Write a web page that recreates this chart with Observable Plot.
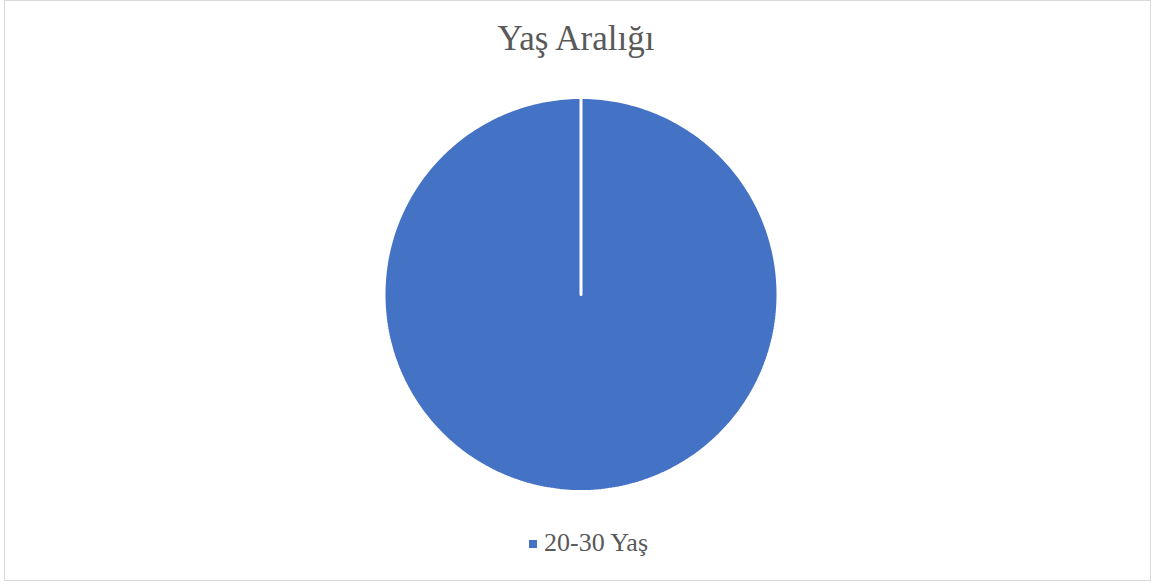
<!DOCTYPE html>
<html>
<head>
<meta charset="utf-8">
<script src="https://cdn.jsdelivr.net/npm/d3@7"></script>
<script src="https://cdn.jsdelivr.net/npm/@observablehq/plot@0.6"></script>
<style>
  html, body { margin: 0; padding: 0; background: #fff; }
  #frame {
    position: absolute; left: 4px; top: 0px; width: 1145px; height: 579px;
    border: 1px solid #d9d9d9; box-sizing: content-box; background: #fff;
  }
  #title {
    position: absolute; left: 0; top: 17px; width: 1152px; text-align: center;
    font-family: "Liberation Serif", "DejaVu Serif", serif; font-size: 35px; color: #595959;
    line-height: 44px;
  }
  #chart { position: absolute; left: 0; top: 87px; }
  #legend { position: absolute; left: 529px; top: 530px; height: 26px; }
  #legend .sw { position: absolute; left: 0; top: 10px; width: 8px; height: 8px; }
  #legend .lbl {
    position: absolute; left: 15px; top: 0; white-space: nowrap;
    font-family: "Liberation Serif", "DejaVu Serif", serif; font-size: 26px; color: #595959;
    line-height: 26px;
  }
</style>
</head>
<body>
<div id="frame"></div>
<div id="title">Yaş Aralığı</div>
<div id="chart"></div>
<div id="legend"></div>
<script>
// Data
const categories = ["20-30 Yaş"];
const values = [100];
const colors = ["#4472c4"];

// Build pie slices through d3.pie, then trace each slice as a closed polygon
const pie = d3.pie().sort(null).startAngle(0).endAngle(2 * Math.PI)(values);
const pts = [];
pie.forEach((s, i) => {
  const n = 360;
  pts.push({cat: categories[i], x: 0, y: 0});
  for (let k = 0; k <= n; k++) {
    const a = s.startAngle + (s.endAngle - s.startAngle) * k / n;
    pts.push({cat: categories[i], x: Math.sin(a), y: Math.cos(a)});
  }
  pts.push({cat: categories[i], x: 0, y: 0});
});

const W = 1152, H = 414, R = 197, cx = 580.5, cy = 207;
const plot = Plot.plot({
  width: W, height: H,
  margin: 0,
  x: {domain: [-cx / R, (W - cx) / R], range: [0, W], axis: null},
  y: {domain: [-(H - cy) / R, cy / R], range: [H, 0], axis: null},
  color: {domain: categories, range: colors},
  marks: [
    Plot.line(pts, {
      x: "x", y: "y", z: "cat",
      fill: "cat", stroke: "white", strokeWidth: 3,
      strokeLinejoin: "miter", curve: "linear"
    })
  ]
});
document.getElementById("chart").appendChild(plot);

const legend = document.getElementById("legend");
categories.forEach((c, i) => {
  const sw = document.createElement("span");
  sw.className = "sw";
  sw.style.background = colors[i];
  legend.appendChild(sw);
  const lbl = document.createElement("span");
  lbl.className = "lbl";
  lbl.textContent = c;
  legend.appendChild(lbl);
});
</script>
</body>
</html>
